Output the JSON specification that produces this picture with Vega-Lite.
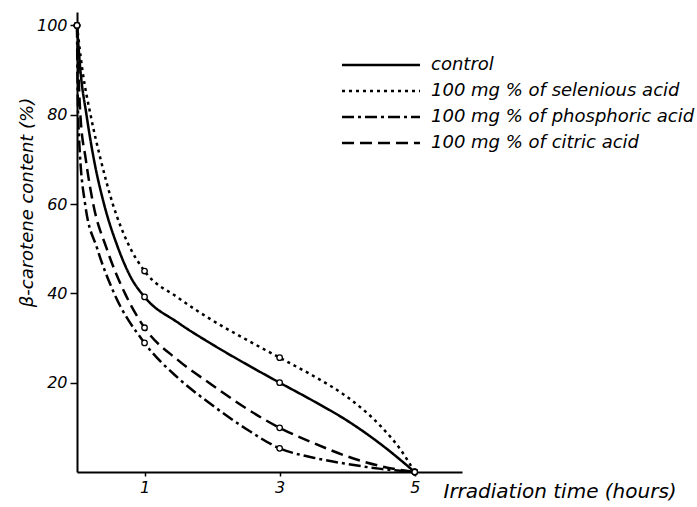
{
  "$schema": "https://vega.github.io/schema/vega-lite/v6.json",
  "width": 385,
  "height": 460,
  "padding": {"left": 77, "top": 12, "right": 235, "bottom": 35},
  "autosize": {"type": "none"},
  "background": "white",
  "config": {
    "view": {"stroke": null},
    "font": "DejaVu Sans",
    "axis": {
      "domainColor": "black", "domainWidth": 2, "tickColor": "black", "tickWidth": 1.5,
      "labelColor": "black", "labelFont": "DejaVu Sans", "labelFontStyle": "italic", "labelFontSize": 16,
      "titleColor": "black", "titleFont": "DejaVu Sans", "titleFontStyle": "italic", "titleFontWeight": "normal", "titleFontSize": 18,
      "grid": false
    }
  },
  "data": {
    "values": [
      {"s": "control", "x": 0, "y": 100, "m": true},
      {"s": "control", "x": 0.05, "y": 90, "m": false},
      {"s": "control", "x": 0.14, "y": 80, "m": false},
      {"s": "control", "x": 0.25, "y": 70, "m": false},
      {"s": "control", "x": 0.4, "y": 60, "m": false},
      {"s": "control", "x": 0.6, "y": 50.5, "m": false},
      {"s": "control", "x": 0.8, "y": 43.5, "m": false},
      {"s": "control", "x": 1, "y": 39.2, "m": true},
      {"s": "control", "x": 1.5, "y": 33.4, "m": false},
      {"s": "control", "x": 2, "y": 28.6, "m": false},
      {"s": "control", "x": 2.5, "y": 24.2, "m": false},
      {"s": "control", "x": 3, "y": 20, "m": true},
      {"s": "control", "x": 3.5, "y": 15.9, "m": false},
      {"s": "control", "x": 4, "y": 11.5, "m": false},
      {"s": "control", "x": 4.5, "y": 6.2, "m": false},
      {"s": "control", "x": 5, "y": 0, "m": true},
      {"s": "100 mg % of selenious acid", "x": 0, "y": 100, "m": true},
      {"s": "100 mg % of selenious acid", "x": 0.08, "y": 90, "m": false},
      {"s": "100 mg % of selenious acid", "x": 0.2, "y": 80, "m": false},
      {"s": "100 mg % of selenious acid", "x": 0.35, "y": 70, "m": false},
      {"s": "100 mg % of selenious acid", "x": 0.53, "y": 60, "m": false},
      {"s": "100 mg % of selenious acid", "x": 0.76, "y": 51, "m": false},
      {"s": "100 mg % of selenious acid", "x": 1, "y": 45, "m": true},
      {"s": "100 mg % of selenious acid", "x": 1.5, "y": 39, "m": false},
      {"s": "100 mg % of selenious acid", "x": 2, "y": 34, "m": false},
      {"s": "100 mg % of selenious acid", "x": 2.5, "y": 29.7, "m": false},
      {"s": "100 mg % of selenious acid", "x": 3, "y": 25.6, "m": true},
      {"s": "100 mg % of selenious acid", "x": 3.5, "y": 21.5, "m": false},
      {"s": "100 mg % of selenious acid", "x": 4, "y": 16.8, "m": false},
      {"s": "100 mg % of selenious acid", "x": 4.5, "y": 10.2, "m": false},
      {"s": "100 mg % of selenious acid", "x": 4.8, "y": 4.8, "m": false},
      {"s": "100 mg % of selenious acid", "x": 5, "y": 0, "m": true},
      {"s": "100 mg % of phosphoric acid", "x": 0, "y": 100, "m": true},
      {"s": "100 mg % of phosphoric acid", "x": 0.01, "y": 85, "m": false},
      {"s": "100 mg % of phosphoric acid", "x": 0.03, "y": 75, "m": false},
      {"s": "100 mg % of phosphoric acid", "x": 0.12, "y": 60, "m": false},
      {"s": "100 mg % of phosphoric acid", "x": 0.3, "y": 50, "m": false},
      {"s": "100 mg % of phosphoric acid", "x": 0.55, "y": 40, "m": false},
      {"s": "100 mg % of phosphoric acid", "x": 1, "y": 28.9, "m": true},
      {"s": "100 mg % of phosphoric acid", "x": 1.5, "y": 21, "m": false},
      {"s": "100 mg % of phosphoric acid", "x": 2, "y": 15, "m": false},
      {"s": "100 mg % of phosphoric acid", "x": 2.5, "y": 9.7, "m": false},
      {"s": "100 mg % of phosphoric acid", "x": 3, "y": 5.3, "m": true},
      {"s": "100 mg % of phosphoric acid", "x": 3.5, "y": 3.2, "m": false},
      {"s": "100 mg % of phosphoric acid", "x": 4, "y": 1.8, "m": false},
      {"s": "100 mg % of phosphoric acid", "x": 4.5, "y": 0.7, "m": false},
      {"s": "100 mg % of phosphoric acid", "x": 5, "y": 0, "m": true},
      {"s": "100 mg % of citric acid", "x": 0, "y": 100, "m": true},
      {"s": "100 mg % of citric acid", "x": 0.02, "y": 90, "m": false},
      {"s": "100 mg % of citric acid", "x": 0.05, "y": 80, "m": false},
      {"s": "100 mg % of citric acid", "x": 0.13, "y": 70, "m": false},
      {"s": "100 mg % of citric acid", "x": 0.24, "y": 60, "m": false},
      {"s": "100 mg % of citric acid", "x": 0.44, "y": 50, "m": false},
      {"s": "100 mg % of citric acid", "x": 0.71, "y": 40, "m": false},
      {"s": "100 mg % of citric acid", "x": 1, "y": 32.3, "m": true},
      {"s": "100 mg % of citric acid", "x": 1.5, "y": 25, "m": false},
      {"s": "100 mg % of citric acid", "x": 2, "y": 19.5, "m": false},
      {"s": "100 mg % of citric acid", "x": 2.5, "y": 14.3, "m": false},
      {"s": "100 mg % of citric acid", "x": 3, "y": 9.9, "m": true},
      {"s": "100 mg % of citric acid", "x": 3.5, "y": 6.5, "m": false},
      {"s": "100 mg % of citric acid", "x": 4, "y": 3.5, "m": false},
      {"s": "100 mg % of citric acid", "x": 4.5, "y": 1.3, "m": false},
      {"s": "100 mg % of citric acid", "x": 5, "y": 0, "m": true}
    ]
  },
  "encoding": {
    "x": {
      "field": "x", "type": "quantitative",
      "scale": {"domain": [0, 5.7], "nice": false, "zero": false},
      "axis": {
        "values": [1, 3, 5], "tickSize": 4, "labelPadding": 3,
        "title": "Irradiation time (hours)", "titleX": 366, "titleY": 19,
        "titleAlign": "left", "titleBaseline": "middle", "titleFontSize": 20
      }
    },
    "y": {
      "field": "y", "type": "quantitative",
      "scale": {"domain": [0, 103], "nice": false},
      "axis": {
        "values": [20, 40, 60, 80, 100], "tickSize": 7, "labelPadding": 3,
        "title": "β-carotene content (%)", "titleX": -50, "titleY": 190,
        "titleAngle": 270, "titleAlign": "center", "titleBaseline": "middle"
      }
    }
  },
  "layer": [
    {
      "mark": {"type": "line", "interpolate": "monotone", "color": "black", "strokeWidth": 2.5},
      "encoding": {
        "detail": {"field": "s"},
        "strokeDash": {
          "field": "s", "type": "nominal",
          "scale": {
            "domain": ["control", "100 mg % of selenious acid", "100 mg % of phosphoric acid", "100 mg % of citric acid"],
            "range": [[1, 0], [3, 4], [12, 4, 3, 4], [12, 6]]
          },
          "legend": {
            "title": null, "orient": "none", "legendX": 295, "legendY": 44,
            "padding": 0, "symbolType": "M-7.8,0H7.8", "symbolSize": 100,
            "symbolStrokeWidth": 2.5, "symbolStrokeColor": "black",
            "labelOffset": 41, "rowPadding": 8,
            "labelFont": "DejaVu Sans", "labelFontStyle": "italic", "labelFontSize": 18,
            "labelColor": "black", "labelLimit": 400
          }
        }
      }
    },
    {
      "transform": [{"filter": "datum.m"}],
      "mark": {"type": "point", "shape": "circle", "filled": true, "fill": "white", "stroke": "black", "strokeWidth": 1.3, "size": 30, "opacity": 1}
    }
  ]
}
